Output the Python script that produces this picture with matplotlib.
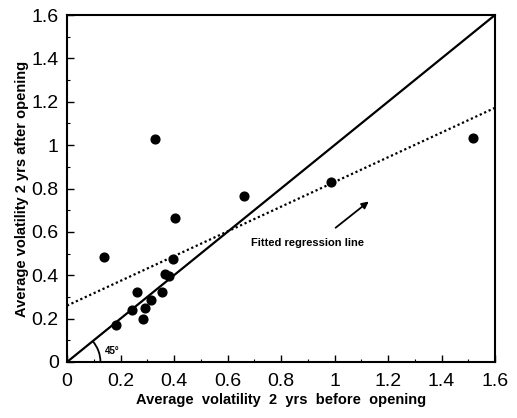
import matplotlib
matplotlib.use("Agg")
import matplotlib.pyplot as plt
from matplotlib.patches import Arc
from matplotlib.ticker import MultipleLocator, FuncFormatter
import numpy as np

plt.rcParams['font.family'] = ['Liberation Sans', 'DejaVu Sans']

# Data
vol_before = [0.137, 0.328, 1.517, 0.988, 0.660, 0.402, 0.395, 0.365, 0.380,
              0.262, 0.357, 0.315, 0.291, 0.243, 0.284, 0.184]
vol_after = [0.485, 1.028, 1.031, 0.831, 0.765, 0.666, 0.477, 0.405, 0.398,
             0.322, 0.322, 0.285, 0.251, 0.242, 0.198, 0.169]
reg_intercept = 0.26
reg_slope = 0.57
diag = [0, 1.6]

fig = plt.figure(figsize=(5.17, 4.18), dpi=100)
ax = fig.add_axes([67/517, 1 - 362/418, (495-67)/517, (362-15)/418])

ax.plot(diag, diag, color='black', lw=1.6)
xr = np.array(diag)
ax.plot(xr, reg_intercept + reg_slope * xr, color='black', lw=1.6, ls=(0, (1, 1.2)))
ax.plot(vol_before, vol_after, 'o', color='black', markersize=6.3)

ax.add_patch(Arc((0, 0), 0.25, 0.30, theta1=0, theta2=45, color='black', lw=1.3))
ax.text(0.14, 0.035, '45°', fontsize=7, fontweight='bold')

ax.annotate('', xy=(1.136, 0.748), xytext=(0.996, 0.611),
            arrowprops=dict(arrowstyle='-|>', color='black', lw=1.3, mutation_scale=10))
ax.text(0.90, 0.55, 'Fitted regression line', fontsize=8, fontweight='bold',
        ha='center', va='center')

ax.set_xlim(0, 1.6)
ax.set_ylim(0, 1.6)
fmt = FuncFormatter(lambda v, p: ('%g' % round(v, 1)))
ax.xaxis.set_major_locator(MultipleLocator(0.2))
ax.yaxis.set_major_locator(MultipleLocator(0.2))
ax.xaxis.set_minor_locator(MultipleLocator(0.1))
ax.yaxis.set_minor_locator(MultipleLocator(0.1))
ax.xaxis.set_major_formatter(fmt)
ax.yaxis.set_major_formatter(fmt)
ax.tick_params(which='major', direction='in', length=5, width=1, labelsize=14, pad=8)
ax.tick_params(which='minor', direction='in', length=2.5, width=0.8)
ax.tick_params(axis='y', pad=6)
for s in ax.spines.values():
    s.set_linewidth(1.5)

ax.set_xlabel('Average  volatility  2  yrs  before  opening', fontsize=10.5,
              fontweight='bold', labelpad=2)
ax.set_ylabel('Average volatility 2 yrs after opening', fontsize=10.5,
              fontweight='bold', labelpad=2)

fig.savefig('out.png', dpi=100)
